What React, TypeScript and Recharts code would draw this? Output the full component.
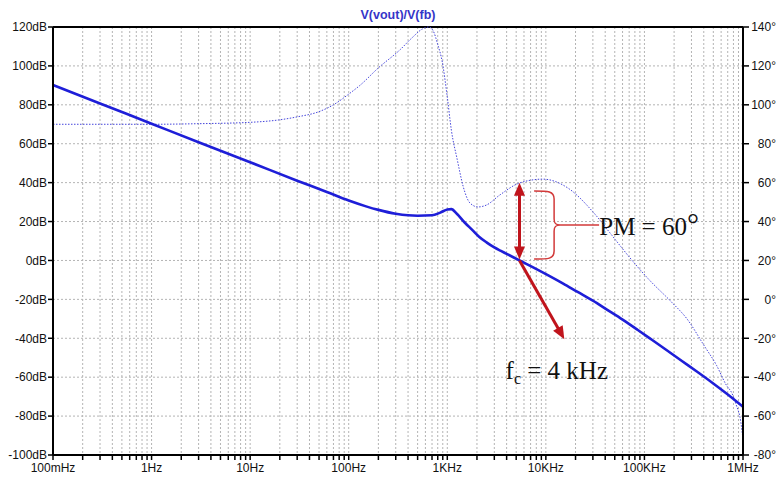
import React from 'react'
import {
  ComposedChart,
  Line,
  XAxis,
  YAxis,
  CartesianGrid,
  ReferenceLine,
  ReferenceDot,
} from 'recharts'

// decade positions and their labels on the log frequency axis
const decades = [0.1, 1, 10, 100, 1000, 10000, 100000, 1000000]
const decadeLabels = ['100mHz', '1Hz', '10Hz', '100Hz', '1KHz', '10KHz', '100KHz', '1MHz']
const minorSteps = [1, 2, 3, 4, 5, 6, 7, 8, 9]

const gainTicks = [-100, -80, -60, -40, -20, 0, 20, 40, 60, 80, 100, 120]
const phaseTicks = [-80, -60, -40, -20, 0, 20, 40, 60, 80, 100, 120, 140]

// loop gain magnitude
const magFreq = [
  0.1, 0.3, 1, 3, 10, 30, 60, 100, 150, 200, 300, 400, 500, 700, 850, 1000, 1100, 1250,
  1500, 1800, 2100, 2500, 3000, 3500, 4000, 5400, 7600, 10700, 15000, 21000, 30000, 42000,
  60000, 85000, 120000, 170000, 240000, 340000, 480000, 680000, 1000000,
]
const magDb = [
  90.2, 80.7, 70.3, 60.8, 50.5, 41, 35.2, 30.8, 27.8, 26, 24, 23.2, 23, 23.2, 24.6, 26.2,
  26.4, 24, 19.5, 15.6, 12.2, 9.3, 6.7, 4.9, 3.4, 0, -3.8, -7.8, -11.9, -16.2, -20.7,
  -25.4, -30.4, -35.6, -40.9, -46.3, -51.7, -57.1, -62.6, -68.4, -75.2,
]

// loop gain phase
const phaseFreq = [
  0.1, 0.3, 1, 3, 10, 20, 30, 50, 70, 100, 130, 200, 330, 440, 560, 650, 720, 800, 890,
  1000, 1100, 1260, 1450, 1700, 2050, 2500, 3400, 5400, 9300, 17000, 30000, 45000, 60000,
  75000, 112000, 185000, 270000, 400000, 540000, 676000, 776000, 850000, 950000, 1000000,
]
const phaseDeg = [
  90, 90, 90, 90.3, 91, 92.3, 93.8, 96.5, 100, 105.5, 110, 119, 128.2, 134.5, 139, 140,
  138, 131, 122, 104, 87, 72, 58, 49.5, 47.5, 48.5, 53.6, 59.8, 61.8, 57, 45, 34, 26, 20,
  10, -1, -10, -23.5, -34, -44, -48.5, -54, -63, -72,
]

const magData = magFreq.map((f, i) => ({ f, mag: magDb[i] }))
const phaseData = phaseFreq.map((f, i) => ({ f, phase: phaseDeg[i] }))

const freqTicks = decades.flatMap((d, i) =>
  i === decades.length - 1 ? [d] : minorSteps.map((m) => Number((d * m).toPrecision(3)))
)

const RED = '#c0141c'
const AXIS_FONT = '"Liberation Sans", Arial, sans-serif'
const SERIF = '"Liberation Serif", "Times New Roman", serif'

const formatFreq = (v: number) => {
  const i = decades.indexOf(v)
  return i >= 0 ? decadeLabels[i] : ''
}

// straight arrow with filled heads, drawn between the segment end points
const arrowShape = (both: boolean) => (props: any) => {
  const { x1, y1, x2, y2 } = props
  const len = 13
  const half = 5.5
  const ang = Math.atan2(y2 - y1, x2 - x1)
  const ux = Math.cos(ang)
  const uy = Math.sin(ang)
  const head = (tx: number, ty: number, dir: number) => {
    const bx = tx - dir * ux * len
    const by = ty - dir * uy * len
    return `${tx},${ty} ${bx - uy * half},${by + ux * half} ${bx + uy * half},${by - ux * half}`
  }
  const sx = both ? x1 + ux * len * 0.8 : x1
  const sy = both ? y1 + uy * len * 0.8 : y1
  return (
    <g>
      <line
        x1={sx}
        y1={sy}
        x2={x2 - ux * len * 0.8}
        y2={y2 - uy * len * 0.8}
        stroke={RED}
        strokeWidth={3}
      />
      <polygon points={head(x2, y2, 1)} fill={RED} />
      {both && <polygon points={head(x1, y1, -1)} fill={RED} />}
    </g>
  )
}

// curly brace opening to the right, spanning the segment
const braceShape = (props: any) => {
  const { x1, y1, y2 } = props
  const ym = (y1 + y2) / 2
  const w = 20
  const d = [
    `M ${x1} ${y1}`,
    `C ${x1 + 14} ${y1} ${x1 + w} ${y1} ${x1 + w} ${y1 + 8}`,
    `L ${x1 + w} ${ym - 6}`,
    `C ${x1 + w} ${ym - 1} ${x1 + w + 2} ${ym} ${x1 + w + 6} ${ym}`,
    `C ${x1 + w + 2} ${ym} ${x1 + w} ${ym + 1} ${x1 + w} ${ym + 6}`,
    `L ${x1 + w} ${y2 - 8}`,
    `C ${x1 + w} ${y2} ${x1 + 14} ${y2} ${x1} ${y2}`,
    `M ${x1 + w + 4} ${ym} L ${x1 + w + 45} ${ym}`,
  ].join(' ')
  return <path d={d} fill="none" stroke="#d23a3a" strokeWidth={1.5} />
}

const pmLabel = (props: any) => (
  <text x={props.cx} y={props.cy} fontFamily={SERIF} fontSize={25} fill="#111">
    PM = 60
    <tspan fontSize={30} dy={-1}>
      °
    </tspan>
  </text>
)

const fcLabel = (props: any) => (
  <text x={props.cx} y={props.cy} fontFamily={SERIF} fontSize={25} fill="#111">
    f
    <tspan fontSize={16} dy={5}>
      c
    </tspan>
    <tspan dy={-5}> = 4 kHz</tspan>
  </text>
)

const PhaseTick = (props: any) => {
  const { y, payload } = props
  return (
    <text x={776} y={y} dy="0.355em" textAnchor="end" fontFamily={AXIS_FONT} fontSize={12} fill="#111">
      {`${payload.value}°`}
    </text>
  )
}

export default function App() {
  return (
    <div style={{ position: 'absolute', left: 0, top: 0, background: '#fff' }}>
      <ComposedChart width={777} height={487} margin={{ top: 27, right: 0, bottom: 0, left: 0 }}>
        <CartesianGrid yAxisId="mag" stroke="#b4b4b4" strokeDasharray="2 2" />
        <XAxis
          dataKey="f"
          type="number"
          scale="log"
          domain={[0.1, 1000000]}
          ticks={freqTicks}
          interval={0}
          tickFormatter={formatFreq}
          height={32}
          tickSize={5}
          tickMargin={3}
          axisLine={{ stroke: '#000', strokeWidth: 2 }}
          tickLine={{ stroke: '#000', strokeWidth: 1.5 }}
          tick={{ fill: '#111', fontSize: 12, fontFamily: AXIS_FONT }}
        />
        <YAxis
          yAxisId="mag"
          type="number"
          domain={[-100, 120]}
          ticks={gainTicks}
          interval={0}
          width={53}
          tickSize={5}
          tickMargin={1}
          tickFormatter={(v) => `${v}dB`}
          axisLine={{ stroke: '#000', strokeWidth: 2 }}
          tickLine={{ stroke: '#000', strokeWidth: 1.5 }}
          tick={{ fill: '#111', fontSize: 12, fontFamily: AXIS_FONT }}
        />
        <YAxis
          yAxisId="phase"
          orientation="right"
          type="number"
          domain={[-80, 140]}
          ticks={phaseTicks}
          interval={0}
          width={34}
          tickSize={6}
          axisLine={{ stroke: '#000', strokeWidth: 2 }}
          tickLine={{ stroke: '#000', strokeWidth: 1.5 }}
          tick={<PhaseTick />}
        />
        <ReferenceLine
          yAxisId="mag"
          y={120}
          stroke="#000"
          strokeWidth={2}
          label={{
            value: 'V(vout)/V(fb)',
            position: 'top',
            offset: 8,
            fill: '#3535c8',
            fontSize: 12.5,
            fontWeight: 'bold',
            fontFamily: AXIS_FONT,
          }}
        />
        <Line
          yAxisId="phase"
          data={phaseData}
          dataKey="phase"
          type="monotone"
          stroke="#4646dc"
          strokeWidth={1}
          strokeDasharray="1.5 1.5"
          dot={false}
          isAnimationActive={false}
        />
        <Line
          yAxisId="mag"
          data={magData}
          dataKey="mag"
          type="monotone"
          stroke="#1e1ed8"
          strokeWidth={2.6}
          dot={false}
          isAnimationActive={false}
        />
        <ReferenceLine
          yAxisId="mag"
          segment={[
            { x: 5400, y: 40 },
            { x: 5400, y: 0.5 },
          ]}
          shape={arrowShape(true)}
        />
        <ReferenceLine
          yAxisId="mag"
          segment={[
            { x: 5400, y: 0 },
            { x: 15400, y: -40.5 },
          ]}
          shape={arrowShape(false)}
        />
        <ReferenceLine
          yAxisId="mag"
          segment={[
            { x: 7600, y: 35.7 },
            { x: 7600, y: 0.7 },
          ]}
          shape={braceShape}
        />
        <ReferenceDot yAxisId="mag" x={34800} y={13} shape={pmLabel} />
        <ReferenceDot yAxisId="mag" x={3900} y={-61} shape={fcLabel} />
      </ComposedChart>
    </div>
  )
}
